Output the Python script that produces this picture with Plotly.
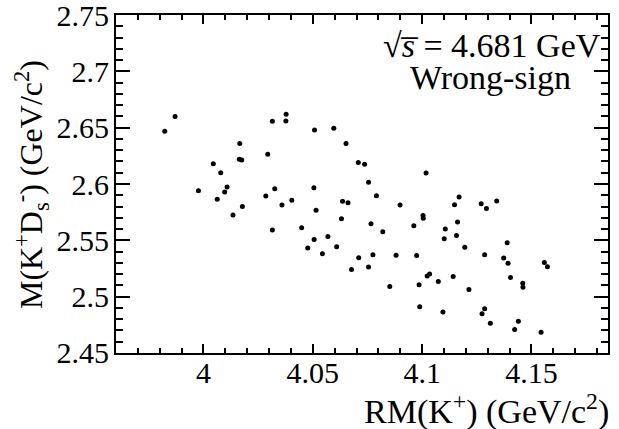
import plotly.graph_objects as go

# RM(K+) values (GeV/c^2)
rm_k = [3.9823, 3.9870, 3.9977, 4.0045, 4.0079, 4.0063, 4.0097, 4.0108, 4.0135, 4.0166,
        4.0164, 4.0175, 4.0178, 4.0294, 4.0315, 4.0285, 4.0326, 4.0315, 4.0359, 4.0378,
        4.0377, 4.0404, 4.0449, 4.0477, 4.0508, 4.0505, 4.0515, 4.0506, 4.0544, 4.0569,
        4.0596, 4.0609, 4.0631, 4.0636, 4.0661, 4.0652, 4.0677, 4.0708, 4.0737, 4.0710,
        4.0755, 4.0755, 4.0766, 4.0775, 4.0791, 4.0820, 4.0852, 4.0881, 4.0899, 4.0962,
        4.0975, 4.0986, 4.0989, 4.1004, 4.1005, 4.1018, 4.1023, 4.1034, 4.1074, 4.1095,
        4.1106, 4.1101, 4.1148, 4.1169, 4.1162, 4.1157, 4.1142, 4.1195, 4.1214, 4.1270,
        4.1294, 4.1341, 4.1286, 4.1286, 4.1274, 4.1312, 4.1389, 4.1373, 4.1393, 4.1404,
        4.1460, 4.1461, 4.1440, 4.1423, 4.1544, 4.1559, 4.1573]

# M(K+ Ds-) values (GeV/c^2)
m_kds = [2.6468, 2.6599, 2.5940, 2.6180, 2.6100, 2.5864, 2.5929, 2.5973, 2.5724, 2.6359,
         2.6219, 2.6213, 2.5801, 2.6264, 2.6557, 2.5893, 2.5958, 2.5591, 2.5813, 2.6619,
         2.6560, 2.5855, 2.5612, 2.5431, 2.6480, 2.5967, 2.5766, 2.5508, 2.5380, 2.5534,
         2.6495, 2.5442, 2.5692, 2.5846, 2.5834, 2.6359, 2.5241, 2.6190, 2.6175, 2.5345,
         2.6015, 2.5262, 2.5647, 2.5371, 2.5896, 2.5576, 2.5090, 2.5368, 2.5813, 2.5629,
         2.5365, 2.5105, 2.4909, 2.5721, 2.5695, 2.6098, 2.5182, 2.5200, 2.5134, 2.4864,
         2.5600, 2.5514, 2.5816, 2.5884, 2.5662, 2.5543, 2.5179, 2.5439, 2.5063, 2.5825,
         2.5783, 2.5849, 2.5371, 2.4891, 2.4847, 2.4764, 2.5478, 2.5342, 2.5297, 2.5170,
         2.5119, 2.5084, 2.4781, 2.4707, 2.4684, 2.5303, 2.5265]

x_range = [3.96, 4.185]
y_range = [2.4499, 2.7501]
label_1 = "√<i>s&#773;</i> = 4.681 GeV"
label_2 = "Wrong-sign"
x_title = "RM(K<sup>+</sup>) (GeV/c<sup>2</sup>)"
y_title = "M(K<sup>+</sup>D<sub>s</sub><sup>-</sup>) (GeV/c<sup>2</sup>)"

FONT = "Liberation Serif"

fig = go.Figure(go.Scatter(
    x=rm_k, y=m_kds, mode="markers",
    marker=dict(color="black", size=5, line=dict(width=0)),
    showlegend=False, hoverinfo="skip",
))

W, H = 619, 429
PL, PR, PT, PB = 116, 608, 15, 353          # plot area in pixels
L, T, R, B = PL, PT, W - PR, H - PB
pw, ph = PR - PL, PB - PT

def px(xs):
    return (xs - PL) / pw

def py(ys):
    return (PB - ys) / ph

axis_common = dict(
    showgrid=False, zeroline=False, showline=True, linecolor="black", linewidth=2,
    mirror="allticks", ticks="inside", tickcolor="black", tickwidth=1.5,
    tickfont=dict(family=FONT, size=30, color="black"),
    ticklabeloverflow="allow",
)

fig.update_xaxes(
    range=x_range, tick0=4, dtick=0.05, ticklen=9,
    minor=dict(dtick=0.01, tick0=4, ticks="inside", ticklen=5, tickcolor="black", tickwidth=1.5),
    ticklabelstandoff=-8,
    **axis_common,
)
fig.update_yaxes(
    range=y_range, tick0=2.45, dtick=0.05, ticklen=14,
    minor=dict(dtick=0.01, tick0=2.45, ticks="inside", ticklen=7, tickcolor="black", tickwidth=1.5),
    ticklabelstandoff=-1,
    **axis_common,
)

ann_font = dict(family=FONT, size=34, color="black")
fig.update_layout(
    width=W, height=H,
    margin=dict(l=L, r=R, t=T, b=B, pad=0, autoexpand=False),
    paper_bgcolor="white", plot_bgcolor="white",
    annotations=[
        dict(text=label_1, x=px(492), y=py(45), xref="paper", yref="paper",
             xanchor="center", yanchor="middle", showarrow=False, font=ann_font),
        dict(text=label_2, x=px(490), y=py(78), xref="paper", yref="paper",
             xanchor="center", yanchor="middle", showarrow=False, font=ann_font),
        dict(text=x_title, x=px(611), y=py(409), xref="paper", yref="paper",
             xanchor="right", yanchor="middle", showarrow=False, font=ann_font),
        dict(text=y_title, x=px(31), y=py(185), xref="paper", yref="paper",
             xanchor="center", yanchor="middle", textangle=-90, showarrow=False,
             font=dict(family=FONT, size=32, color="black")),
    ],
)

fig.write_html("out.html", config={"displayModeBar": False},
               post_script="document.body.style.margin='0';")
